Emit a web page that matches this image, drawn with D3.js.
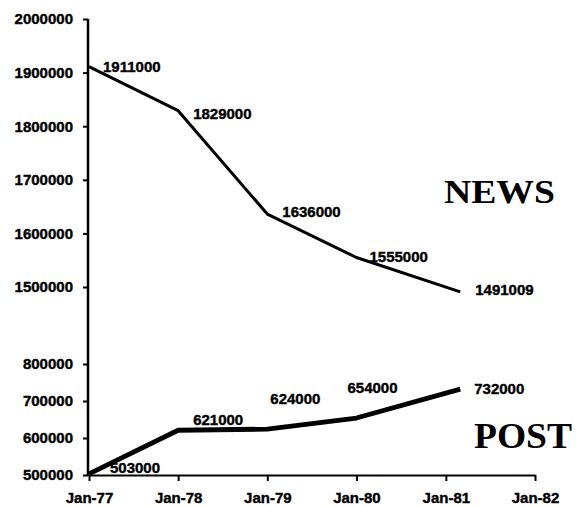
<!DOCTYPE html>
<html>
<head>
	<meta charset="utf-8">
	<title>NEWS and POST circulation</title>
	<style>
		body { margin: 0; background: #fff; }
		.axis text {
			font-family: "Liberation Sans", Arial, sans-serif;
			font-weight: bold;
			font-size: 15px;
			fill: #000;
			stroke: #000;
			stroke-width: 0.4px;
		}
		.axis line, .axis path {
			stroke: #000;
			stroke-width: 2px;
		}
		.val {
			font-family: "Liberation Sans", Arial, sans-serif;
			font-weight: bold;
			font-size: 15px;
			fill: #000;
			stroke: #000;
			stroke-width: 0.4px;
		}
		.title {
			font-family: "Liberation Serif", "Times New Roman", serif;
			font-weight: bold;
			fill: #000;
		}
	</style>
</head>
<body>
	<div id="chart"></div>
	<script src="https://d3js.org/d3.v7.min.js"></script>
	<script>
		// data
		var dates = ["1977-01-01", "1978-01-01", "1979-01-01", "1980-01-01", "1981-03-01"];
		var newsValues = [1911000, 1829000, 1636000, 1555000, 1491000];
		var newsLabels = ["1911000", "1829000", "1636000", "1555000", "1491009"];
		var postValues = [503000, 621000, 624000, 654000, 732000];
		var postLabels = ["503000", "621000", "624000", "654000", "732000"];
		var newsTicks = [1500000, 1600000, 1700000, 1800000, 1900000, 2000000];
		var postTicks = [500000, 600000, 700000, 800000];
		var xTicks = ["1977-01-01", "1978-01-01", "1979-01-01", "1980-01-01", "1981-01-01", "1982-01-01"];

		// label nudges (layout only)
		var newsNudge = [[14, 0], [15, 3], [15, -2], [13, -1], [15, -2]];
		var postNudge = [[21, -6], [15, -10], [3, -30], [-9, -30], [14, 0]];

		var parse = d3.timeParse("%Y-%m-%d");
		var W = 576, H = 507;

		var svg = d3.select("#chart").append("svg")
			.attr("width", W)
			.attr("height", H);

		var x = d3.scaleTime()
			.domain([parse("1977-01-01"), parse("1982-01-01")])
			.range([89, 535]);

		var yNews = d3.scaleLinear().domain([1500000, 2000000]).range([287, 19]);
		var yPost = d3.scaleLinear().domain([500000, 800000]).range([475, 364]);

		var axisX = 88;

		// y axes
		svg.append("g")
			.attr("class", "axis")
			.attr("transform", "translate(" + axisX + ",0)")
			.call(d3.axisLeft(yNews).tickValues(newsTicks).tickSize(5).tickPadding(10).tickFormat(d3.format("d")))
			.select(".domain").remove();

		svg.append("g")
			.attr("class", "axis")
			.attr("transform", "translate(" + axisX + ",0)")
			.call(d3.axisLeft(yPost).tickValues(postTicks).tickSize(5).tickPadding(10).tickFormat(d3.format("d")))
			.select(".domain").remove();

		// one continuous vertical axis line
		svg.append("line")
			.attr("x1", axisX).attr("x2", axisX)
			.attr("y1", yNews(2000000)).attr("y2", yPost(500000) + 1)
			.attr("stroke", "#000")
			.attr("stroke-width", 2.5);

		// x axis
		svg.append("g")
			.attr("class", "axis")
			.attr("transform", "translate(0," + yPost(500000) + ")")
			.call(d3.axisBottom(x)
				.tickValues(xTicks.map(parse))
				.tickSize(6)
				.tickSizeOuter(0)
				.tickPadding(11)
				.tickFormat(d3.timeFormat("%b-%y")));

		var news = dates.map(function(d, i) { return { date: parse(d), value: newsValues[i], label: newsLabels[i], nudge: newsNudge[i] }; });
		var post = dates.map(function(d, i) { return { date: parse(d), value: postValues[i], label: postLabels[i], nudge: postNudge[i] }; });

		svg.append("path")
			.datum(news)
			.attr("fill", "none")
			.attr("stroke", "#000")
			.attr("stroke-width", 3)
			.attr("stroke-linejoin", "round")
			.attr("d", d3.line().x(function(d) { return x(d.date); }).y(function(d) { return yNews(d.value); }));

		svg.append("path")
			.datum(post)
			.attr("fill", "none")
			.attr("stroke", "#000")
			.attr("stroke-width", 4.8)
			.attr("stroke-linejoin", "round")
			.attr("d", d3.line().x(function(d) { return x(d.date); }).y(function(d) { return yPost(d.value); }));

		svg.selectAll(".news-val")
			.data(news)
			.enter().append("text")
			.attr("class", "val")
			.attr("x", function(d) { return x(d.date) + d.nudge[0]; })
			.attr("y", function(d) { return yNews(d.value) + d.nudge[1]; })
			.attr("dy", "0.35em")
			.text(function(d) { return d.label; });

		svg.selectAll(".post-val")
			.data(post)
			.enter().append("text")
			.attr("class", "val")
			.attr("x", function(d) { return x(d.date) + d.nudge[0]; })
			.attr("y", function(d) { return yPost(d.value) + d.nudge[1]; })
			.attr("dy", "0.35em")
			.text(function(d) { return d.label; });

		svg.append("text")
			.attr("class", "title")
			.attr("x", 444)
			.attr("y", 203)
			.attr("textLength", 111)
			.attr("lengthAdjust", "spacingAndGlyphs")
			.style("font-size", "34px")
			.text("NEWS");

		svg.append("text")
			.attr("class", "title")
			.attr("x", 474)
			.attr("y", 448)
			.attr("textLength", 98)
			.attr("lengthAdjust", "spacingAndGlyphs")
			.style("font-size", "35px")
			.text("POST");
	</script>
</body>
</html>
